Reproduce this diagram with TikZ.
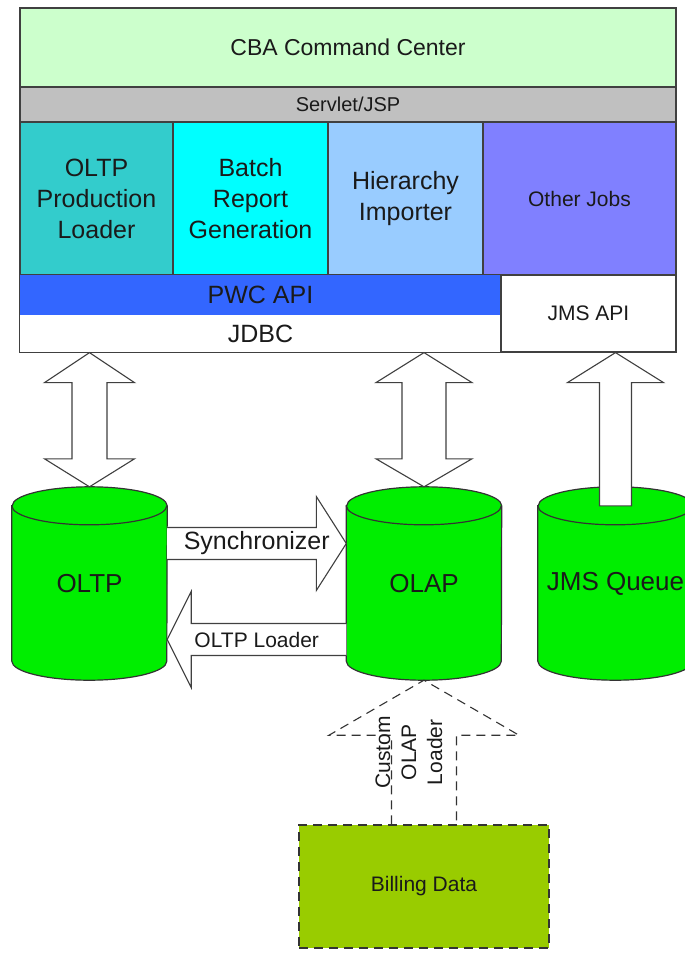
\documentclass[tikz,border=0pt]{standalone}
\usepackage{fontspec}
\setmainfont{Liberation Sans}
\usetikzlibrary{calc,backgrounds}
\definecolor{cbagreen}{HTML}{CCFFCC}
\definecolor{servgray}{HTML}{C0C0C0}
\definecolor{prodteal}{HTML}{33CCCC}
\definecolor{batchcyan}{HTML}{00FFFF}
\definecolor{hierblue}{HTML}{99CCFF}
\definecolor{otherblue}{HTML}{8080FF}
\definecolor{pwcblue}{HTML}{3366FF}
\definecolor{dbgreen}{HTML}{00EE00}
\definecolor{billgreen}{HTML}{99CC00}
\definecolor{framec}{HTML}{404040}
\definecolor{txtc}{HTML}{1A1A1A}

% cylinder drawn round a named store node
\newcommand\dbshape[1]{%
  \filldraw[dbbody] ($(#1.north west)+(0,19)$) -- ($(#1.south west)+(0,-19)$)
    arc[start angle=180, end angle=360, x radius=77.5pt, y radius=19pt]
    -- ($(#1.north east)+(0,19)$)
    arc[start angle=0, end angle=180, x radius=77.5pt, y radius=19pt] -- cycle;
  \draw[dbbody, fill=none] ($(#1.north west)+(0,19)$)
    arc[start angle=180, end angle=360, x radius=77.5pt, y radius=19pt];
}

\begin{document}
\begin{tikzpicture}[x=1pt, y=-1pt,
  layer/.style={draw=framec, line width=1.2pt, inner sep=0pt, align=center, text=txtc},
  job/.style={layer, minimum height=153pt, font=\fontsize{25}{31}\selectfont},
  store/.style={rectangle, minimum width=155pt, minimum height=193pt, inner sep=0pt, text=txtc, font=\fontsize{26}{30}\selectfont},
  dbbody/.style={draw=black!80, line width=1.2pt, fill=dbgreen},
  billbox/.style={draw=black!80, line width=1.2pt, dash pattern=on 9pt off 6pt, fill=billgreen, minimum width=250pt, minimum height=123pt, text=txtc, font=\fontsize{21}{25}\selectfont},
  blockarr/.style={draw=black!75, line width=1.1pt, fill=white, line join=miter},
  dasharr/.style={draw=black!80, line width=1.1pt, dash pattern=on 9pt off 6pt},
  lbl/.style={text=txtc, inner sep=0pt, font=\fontsize{21}{26}\selectfont},
]
\useasboundingbox (0,0) rectangle (685,953);
\clip (0,0) rectangle (685,953);

% ── Top stack ──
\node[layer, fill=cbagreen, minimum width=656pt, minimum height=79pt, font=\fontsize{23}{28}\selectfont] (cba) at (348,47.5) {CBA Command Center};
\node[layer, fill=servgray, minimum width=656pt, minimum height=35pt, font=\fontsize{20}{24}\selectfont] (servlet) at (348,104.5) {Servlet/JSP};

\node[job, fill=prodteal, minimum width=153pt] (prod) at (96.5,198.5) {OLTP\\Production\\Loader};
\node[job, fill=batchcyan, minimum width=155pt] (batch) at (250.5,198.5) {Batch\\Report\\Generation};
\node[job, fill=hierblue, minimum width=155pt] (hier) at (405.5,198.5) {Hierarchy\\Importer};
\node[job, fill=otherblue, minimum width=193pt, font=\fontsize{21}{26}\selectfont] (other) at (579.5,198.5) {Other Jobs};

\node[layer, draw=none, fill=pwcblue, minimum width=481pt, minimum height=40pt, font=\fontsize{25}{30}\selectfont] (pwc) at (260.5,295) {PWC API};
\node[layer, draw=none, fill=white, minimum width=481pt, minimum height=37pt, font=\fontsize{25}{30}\selectfont] (jdbc) at (260.5,333.5) {JDBC};
\node[layer, fill=white, minimum width=175pt, minimum height=77pt, font=\fontsize{21}{26}\selectfont] (jmsapi) at (588.5,313.5) {JMS API};

\draw[framec, line width=1.5pt] (cba.north west) rectangle (jmsapi.south east);

% ── Data stores ──
\node[store] (oltp) at (89.5,583.5) {OLTP};
\node[store] (olap) at (424,583.5) {OLAP};
\node[store] (jmsq) at (615.5,583.5) {JMS Queue};

\node[billbox] (bill) at (424,886.5) {Billing Data};

\begin{scope}[on background layer]
  \clip (0,0) rectangle (685,953);
  \fill[white] (0,0) rectangle (685,953);
  \dbshape{oltp}
  \dbshape{olap}
  \dbshape{jmsq}
\end{scope}

% ── Block arrows to the top stack ──
\coordinate (oltptop) at (oltp.north |- jdbc.south);
\coordinate (olaptop) at (olap.north |- jdbc.south);
\coordinate (jmstip) at (jmsq.north |- jmsapi.south);
\coordinate (jmstail) at ($(jmsq.north)+(0,19)$);

\filldraw[blockarr] (oltptop) -- ($(oltptop)+(45,30)$) -- ($(oltptop)+(17.5,30)$) -- ($(oltp.north)+(17.5,-28)$) -- ($(oltp.north)+(45,-28)$) -- (oltp.north) -- ($(oltp.north)+(-45,-28)$) -- ($(oltp.north)+(-17.5,-28)$) -- ($(oltptop)+(-17.5,30)$) -- ($(oltptop)+(-45,30)$) -- cycle;

\filldraw[blockarr] (olaptop) -- ($(olaptop)+(48,30)$) -- ($(olaptop)+(22,30)$) -- ($(olap.north)+(22,-28)$) -- ($(olap.north)+(48,-28)$) -- (olap.north) -- ($(olap.north)+(-48,-28)$) -- ($(olap.north)+(-22,-28)$) -- ($(olaptop)+(-22,30)$) -- ($(olaptop)+(-48,30)$) -- cycle;

\filldraw[blockarr] ($(jmstail)+(-16,0)$) -- ($(jmstip)+(-16,30)$) -- ($(jmstip)+(-48,30)$) -- (jmstip) -- ($(jmstip)+(48,30)$) -- ($(jmstip)+(16,30)$) -- ($(jmstail)+(16,0)$) -- cycle;

% ── Synchronizer / OLTP Loader ──
\coordinate (synctail) at ([yshift=40pt]oltp.east);
\coordinate (synctip) at ([yshift=40pt]olap.west);
\filldraw[blockarr] ($(synctail)+(0,-16)$) -- ($(synctip)+(-30,-16)$) -- ($(synctip)+(-30,-47)$) -- (synctip) -- ($(synctip)+(-30,47)$) -- ($(synctip)+(-30,16)$) -- ($(synctail)+(0,16)$);
\node[lbl, font=\fontsize{25}{30}\selectfont] (synclbl) at ($(synctail)!0.5!(synctip)$) {Synchronizer};

\coordinate (ldtail) at ([yshift=-56pt]olap.west);
\coordinate (ldtip) at ([yshift=-56pt]oltp.east);
\filldraw[blockarr] ($(ldtail)+(0,-16)$) -- ($(ldtip)+(24,-16)$) -- ($(ldtip)+(24,-48)$) -- (ldtip) -- ($(ldtip)+(24,48)$) -- ($(ldtip)+(24,16)$) -- ($(ldtail)+(0,16)$);
\node[lbl] (ldlbl) at ($(ldtail)!0.5!(ldtip)$) {OLTP Loader};

% ── Custom OLAP Loader (dashed) ──
\coordinate (custtip) at (olap.south);
\coordinate (custtail) at (bill.north);
\draw[dasharr] ($(custtail)+(-32.5,0)$) -- ($(custtip)+(-32.5,55)$) -- ($(custtip)+(-95,55)$) -- (custtip) -- ($(custtip)+(95,55)$) -- ($(custtip)+(32.5,55)$) -- ($(custtail)+(32.5,0)$);
\node[lbl, rotate=90, align=center] (custlbl) at ($(custtip)!0.5!(custtail)+(-15,0)$) {Custom\\OLAP\\Loader};

\end{tikzpicture}
\end{document}
